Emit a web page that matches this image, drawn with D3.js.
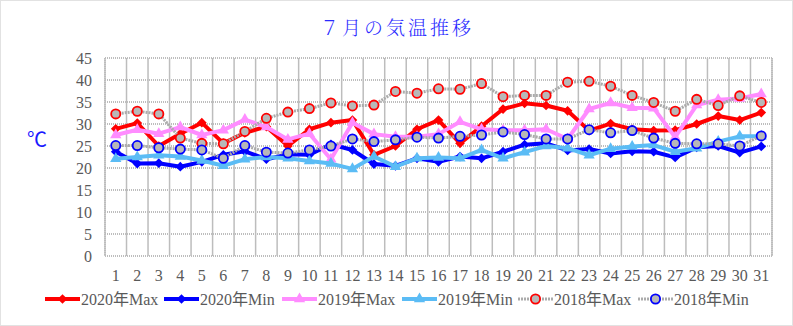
<!DOCTYPE html>
<html><head><meta charset="utf-8">
<script src="https://cdn.jsdelivr.net/npm/d3@7/dist/d3.min.js"></script>
<style>
html,body{margin:0;padding:0;background:#fff;}
svg{display:block;}
</style></head>
<body>
<svg id="chart" width="793" height="326"></svg>
<script>
const days = d3.range(1, 32);
const yTicks = [0,5,10,15,20,25,30,35,40,45];
const seriesNames = ["2020年Max","2020年Min","2019年Max","2019年Min","2018年Max","2018年Min"];
const max2020 = [28.9,30.2,25.0,27.8,30.3,25.6,28.0,29.4,25.0,28.8,30.3,30.9,23.0,25.0,28.8,30.9,25.6,29.5,33.4,34.7,34.2,33.0,28.5,30.1,28.8,28.5,28.6,30.0,31.8,30.9,32.6];
const min2020 = [23.7,21.0,21.1,20.3,21.4,23.0,23.8,22.0,23.1,23.0,25.4,24.1,20.9,20.5,22.2,21.4,22.6,22.2,23.7,25.3,25.6,24.0,24.3,23.3,23.8,23.7,22.4,24.7,25.0,23.5,24.9];
const max2019 = [27.5,28.7,27.8,29.3,27.5,28.6,31.0,29.3,26.5,27.8,22.0,30.3,27.7,27.1,27.1,27.7,30.5,28.8,28.6,28.6,28.8,26.6,33.4,34.8,33.7,33.6,27.0,34.3,35.5,35.8,36.8];
const min2019 = [22.1,22.5,22.9,22.6,21.7,20.5,22.0,22.5,22.2,21.6,21.0,19.8,22.6,20.3,22.2,22.4,22.2,24.1,22.2,23.6,25.0,24.5,22.9,24.4,24.9,25.2,23.7,24.5,26.0,27.2,27.2];
const max2018 = [32.3,32.9,32.3,26.8,25.6,25.5,28.3,31.3,32.7,33.5,34.8,34.1,34.3,37.4,37.0,38.0,37.9,39.2,36.2,36.5,36.5,39.5,39.7,38.6,36.5,34.9,32.9,35.6,34.2,36.4,34.9];
const min2018 = [25.1,25.1,24.6,24.3,24.1,22.2,25.1,23.6,23.4,24.1,25.0,26.6,26.0,26.4,27.0,26.8,27.2,27.5,28.2,27.6,26.6,26.6,28.7,28.0,28.5,26.8,25.6,25.5,25.5,25.0,27.3];

const styles = [
  {values:max2020, color:"#ff0000", width:4, dash:null, marker:"diamond", mstroke:null, mfill:"#ff0000"},
  {values:min2020, color:"#0000ff", width:4, dash:null, marker:"diamond", mstroke:null, mfill:"#0000ff"},
  {values:max2019, color:"#ff8cff", width:4, dash:null, marker:"triangle", mstroke:null, mfill:"#ff8cff"},
  {values:min2019, color:"#5bbcf5", width:4, dash:null, marker:"triangle", mstroke:null, mfill:"#5bbcf5"},
  {values:max2018, color:"#ababab", width:3, dash:"2,1", marker:"circle", mstroke:"#ff0000", mfill:"#b8b8b8"},
  {values:min2018, color:"#ababab", width:3, dash:"2,1", marker:"circle", mstroke:"#0000ff", mfill:"#b8b8b8"}
];

const svg = d3.select("#chart");
const L = 105, R = 772, T = 58, B = 256;
const x = d3.scaleBand().domain(days).range([L, R]).padding(0);
const cx = d => x(d) + x.bandwidth()/2;
const y = d3.scaleLinear().domain([0,45]).range([B, T]);
const serif = "'Liberation Serif','DejaVu Serif','Noto Sans CJK JP',serif";
const grid = "#bdbdbd";

// outer border
svg.append("rect").attr("x",0.5).attr("y",0.5).attr("width",792).attr("height",325)
  .attr("fill","none").attr("stroke","#c4c4c4").attr("stroke-dasharray","1,1");

// title
svg.append("text").attr("x",397).attr("y",35).attr("text-anchor","middle")
  .attr("font-family","'Noto Serif CJK JP','Noto Sans CJK JP',sans-serif").attr("font-size",19)
  .attr("font-weight",300).attr("letter-spacing",3).attr("fill","#2a2aff").text("７月の気温推移");

// unit
svg.append("text").attr("x",37).attr("y",147).attr("text-anchor","middle")
  .attr("font-family","'Liberation Serif','Noto Sans CJK JP',serif").attr("font-size",20)
  .attr("fill","#1a1aff").text("℃");

// grid: vertical band boundaries
const vb = days.map(d => x(d)).concat([R]);
svg.append("g").selectAll("line").data(vb).join("line")
  .attr("x1",d=>d).attr("x2",d=>d).attr("y1",T).attr("y2",B)
  .attr("stroke",grid).attr("stroke-width",1.5);
// horizontal
svg.append("g").selectAll("line").data(yTicks).join("line")
  .attr("x1",L).attr("x2",R).attr("y1",d=>y(d)).attr("y2",d=>y(d))
  .attr("stroke",grid).attr("stroke-width",2).attr("stroke-dasharray","1,1");
svg.append("line").attr("x1",L).attr("x2",L).attr("y1",T).attr("y2",B)
  .attr("stroke",grid).attr("stroke-width",2).attr("stroke-dasharray","1,1");
svg.append("line").attr("x1",R).attr("x2",R).attr("y1",T).attr("y2",B)
  .attr("stroke",grid).attr("stroke-width",2).attr("stroke-dasharray","1,1");

// axes
const yAxis = svg.append("g").attr("transform",`translate(${L},0)`)
  .call(d3.axisLeft(y).tickValues(yTicks).tickSize(0).tickPadding(13));
yAxis.select(".domain").remove();
yAxis.selectAll("text").attr("font-family",serif).attr("font-size",16).attr("fill","#595959");

const xAxis = svg.append("g").attr("transform",`translate(0,${B})`)
  .call(d3.axisBottom(x).tickSize(0).tickPadding(14));
xAxis.select(".domain").remove();
xAxis.selectAll("text").attr("font-family",serif).attr("font-size",16).attr("fill","#595959");

// series
const line = d3.line().x((v,i)=>cx(days[i])).y(v=>y(v));
const symDiamond = d3.symbol().type(d3.symbolDiamond2).size(60);
const symTri = d3.symbol().type(d3.symbolTriangle).size(55);

function drawMarker(g, s, px, py) {
  if (s.marker === "circle") {
    g.append("circle").attr("cx",px).attr("cy",py).attr("r",4.6)
      .attr("fill",s.mfill).attr("stroke",s.mstroke).attr("stroke-width",1.8);
  } else {
    g.append("path").attr("d", s.marker==="diamond" ? symDiamond() : symTri())
      .attr("transform",`translate(${px},${py})`).attr("fill",s.mfill);
  }
}

styles.forEach(s => {
  const g = svg.append("g");
  g.append("path").attr("d", line(s.values)).attr("fill","none")
    .attr("stroke", s.color).attr("stroke-width", s.width)
    .attr("stroke-dasharray", s.dash).attr("stroke-linejoin","round");
  s.values.forEach((v,i) => drawMarker(g, s, cx(days[i]), y(v)));
});

// legend
const legX = [45, 164, 282, 402, 518, 638];
const legY = 299;
styles.forEach((s,i) => {
  const g = svg.append("g");
  const x0 = legX[i];
  g.append("line").attr("x1",x0).attr("x2",x0+35).attr("y1",legY).attr("y2",legY)
    .attr("stroke",s.color).attr("stroke-width",s.width).attr("stroke-dasharray",s.dash);
  drawMarker(g, s, x0+17.5, legY);
  g.append("text").attr("x",x0+36).attr("y",legY+5.5)
    .attr("font-family",serif).attr("font-size",16).attr("fill","#595959")
    .text(seriesNames[i]);
});
</script>
</body></html>
